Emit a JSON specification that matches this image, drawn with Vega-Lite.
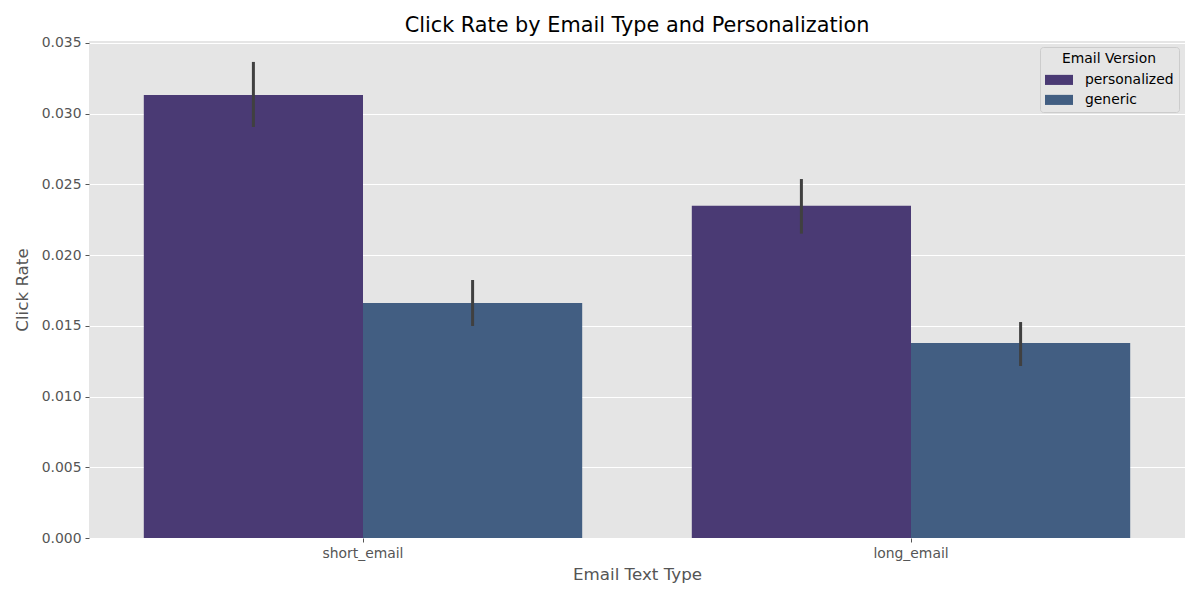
{
  "$schema": "https://vega.github.io/schema/vega-lite/v6.json",
  "width": 1096,
  "height": 497,
  "autosize": {"type": "none"},
  "padding": {"left": 89, "top": 41, "right": 15, "bottom": 62},
  "background": "white",
  "title": {"text": "Click Rate by Email Type and Personalization", "fontSize": 20.8, "font": "DejaVu Sans", "fontWeight": "normal", "color": "#000000", "offset": -1},
  "config": {
    "view": {"fill": "#e5e5e5", "stroke": null},
    "font": "DejaVu Sans",
    "axis": {"labelFont": "DejaVu Sans", "titleFont": "DejaVu Sans", "labelColor": "#555555", "titleColor": "#555555", "labelFontSize": 13.9, "titleFontSize": 16.7, "titleFontWeight": "normal", "tickColor": "#555555", "tickSize": 4, "domain": false}
  },
  "data": {"values": [
    {"email_text": "short_email", "email_version": "personalized", "click_rate": 0.03132, "lo": 0.02906, "hi": 0.03366},
    {"email_text": "short_email", "email_version": "generic", "click_rate": 0.01662, "lo": 0.01499, "hi": 0.01824},
    {"email_text": "long_email", "email_version": "personalized", "click_rate": 0.02350, "lo": 0.02152, "hi": 0.02538},
    {"email_text": "long_email", "email_version": "generic", "click_rate": 0.01379, "lo": 0.01216, "hi": 0.01527}
  ]},
  "encoding": {
    "x": {"field": "email_text", "type": "nominal", "sort": ["short_email", "long_email"], "scale": {"paddingInner": 0.2, "paddingOuter": 0.1}, "axis": {"title": "Email Text Type", "labelAngle": 0, "grid": false, "labelPadding": 4, "titlePadding": 7}},
    "xOffset": {"field": "email_version", "type": "nominal", "sort": ["personalized", "generic"], "scale": {"paddingInner": 0, "paddingOuter": 0}}
  },
  "layer": [
    {
      "mark": {"type": "bar"},
      "encoding": {
        "y": {"field": "click_rate", "type": "quantitative", "scale": {"domain": [0, 0.03514], "nice": false, "zero": true}, "axis": {"title": "Click Rate", "values": [0, 0.005, 0.01, 0.015, 0.02, 0.025, 0.03, 0.035], "format": ".3f", "grid": true, "gridColor": "#ffffff", "gridWidth": 1, "labelPadding": 4, "titlePadding": 10}},
        "color": {"field": "email_version", "type": "nominal", "sort": ["personalized", "generic"], "scale": {"domain": ["personalized", "generic"], "range": ["#4a3a74", "#425e82"]}, "legend": {"title": "Email Version", "orient": "top-right", "offset": 6, "padding": 5, "strokeColor": "#cccccc", "fillColor": "#e5e5e5", "cornerRadius": 3, "titleFontSize": 13.9, "titleFontWeight": "normal", "titleColor": "#000000", "titleAnchor": "middle", "titlePadding": 7, "titleFont": "DejaVu Sans", "labelFont": "DejaVu Sans", "labelFontSize": 13.9, "labelColor": "#000000", "symbolType": "M-2,-0.72H2V0.72H-2Z", "symbolSize": 196, "symbolOffset": 7, "symbolStrokeWidth": 0, "symbolOpacity": 1, "rowPadding": 6, "labelOffset": 19}}
      }
    },
    {
      "mark": {"type": "rule", "strokeWidth": 3, "color": "#404040"},
      "encoding": {
        "y": {"field": "lo", "type": "quantitative"},
        "y2": {"field": "hi"}
      }
    }
  ]
}
